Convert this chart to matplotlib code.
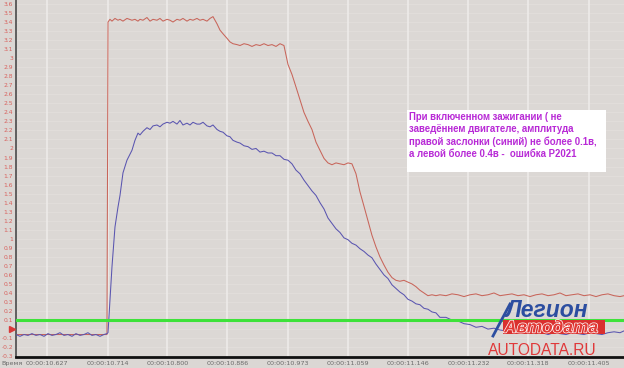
import numpy as np
import matplotlib
matplotlib.use("Agg")
import matplotlib.pyplot as plt
from matplotlib.lines import Line2D
from matplotlib.patches import Rectangle
import matplotlib.patheffects as pe

# ---------------- data ----------------
x_tick_values = [10.627, 10.714, 10.800, 10.886, 10.973, 11.059, 11.146, 11.232, 11.318, 11.405]
x_tick_labels = ["00:00:10.627", "00:00:10.714", "00:00:10.800", "00:00:10.886", "00:00:10.973",
                 "00:00:11.059", "00:00:11.146", "00:00:11.232", "00:00:11.318", "00:00:11.405"]
y_tick_values = [3.6, 3.5, 3.4, 3.3, 3.2, 3.1, 3.0, 2.9, 2.8, 2.7, 2.6, 2.5, 2.4, 2.3, 2.2, 2.1, 2.0,
                 1.9, 1.8, 1.7, 1.6, 1.5, 1.4, 1.3, 1.2, 1.1, 1.0, 0.9, 0.8, 0.7, 0.6, 0.5, 0.4, 0.3,
                 0.2, 0.1, 0.0, -0.1, -0.2, -0.3]
y_tick_labels = ["3.6", "3.5", "3.4", "3.3", "3.2", "3.1", "3", "2.9", "2.8", "2.7", "2.6", "2.5", "2.4",
                 "2.3", "2.2", "2.1", "2", "1.9", "1.8", "1.7", "1.6", "1.5", "1.4", "1.3", "1.2", "1.1",
                 "1", "0.9", "0.8", "0.7", "0.6", "0.5", "0.4", "0.3", "0.2", "0.1", "", "-0.1", "-0.2", "-0.3"]

threshold_level = 0.1

# red trace (left flap)
red_t = [10.5825, 10.7131, 10.7146, 10.7174, 10.7203, 10.7246, 10.7289, 10.7318, 10.7361, 10.7418,
         10.7490, 10.7533, 10.7576, 10.7605, 10.7648, 10.7705, 10.7749, 10.7792, 10.7849, 10.7892,
         10.7935, 10.7993, 10.8036, 10.8079, 10.8136, 10.8179, 10.8222, 10.8280, 10.8323, 10.8366,
         10.8423, 10.8466, 10.8510, 10.8567, 10.8610, 10.8653, 10.8711, 10.8754, 10.8797, 10.8854,
         10.8897, 10.8940, 10.8998, 10.9041, 10.9098, 10.9156, 10.9213, 10.9271, 10.9328, 10.9385,
         10.9443, 10.9500, 10.9558, 10.9615, 10.9672, 10.9730, 10.9787, 10.9845, 10.9902, 10.9959,
         11.0017, 11.0074, 11.0132, 11.0189, 11.0247, 11.0304, 11.0361, 11.0419, 11.0476, 11.0534,
         11.0591, 11.0648, 11.0706, 11.0763, 11.0821, 11.0878, 11.0935, 11.0993, 11.1050, 11.1108,
         11.1165, 11.1223, 11.1280, 11.1337, 11.1395, 11.1452, 11.1510, 11.1567, 11.1624, 11.1682,
         11.1739, 11.1797, 11.1854, 11.1911, 11.1998, 11.2084, 11.2170, 11.2257, 11.2343, 11.2429,
         11.2515, 11.2601, 11.2687, 11.2774, 11.2860, 11.2946, 11.3032, 11.3118, 11.3204, 11.3290,
         11.3377, 11.3463, 11.3549, 11.3635, 11.3721, 11.3807, 11.3894, 11.3980, 11.4066, 11.4152,
         11.4238, 11.4324, 11.4411, 11.4497, 11.4554]
red_v = [-0.06, -0.06, 3.40, 3.43, 3.41, 3.44, 3.42, 3.43, 3.41, 3.44,
         3.42, 3.43, 3.41, 3.43, 3.42, 3.45, 3.41, 3.43, 3.42, 3.44,
         3.41, 3.43, 3.42, 3.40, 3.43, 3.42, 3.44, 3.41, 3.43, 3.42,
         3.44, 3.42, 3.43, 3.41, 3.44, 3.46, 3.38, 3.31, 3.27, 3.22,
         3.18, 3.16, 3.15, 3.14, 3.16, 3.15, 3.13, 3.15, 3.14, 3.16,
         3.14, 3.15, 3.13, 3.16, 3.14, 2.93, 2.82, 2.68, 2.54, 2.40,
         2.30, 2.21, 2.07, 1.98, 1.89, 1.84, 1.82, 1.84, 1.83, 1.82,
         1.84, 1.83, 1.72, 1.52, 1.36, 1.20, 1.04, 0.91, 0.80, 0.71,
         0.63, 0.57, 0.54, 0.53, 0.54, 0.52, 0.50, 0.47, 0.43, 0.40,
         0.37, 0.38, 0.37, 0.38, 0.37, 0.39, 0.38, 0.36, 0.38, 0.39,
         0.37, 0.38, 0.40, 0.37, 0.38, 0.39, 0.37, 0.38, 0.36, 0.38,
         0.39, 0.37, 0.38, 0.40, 0.37, 0.38, 0.39, 0.37, 0.38, 0.36,
         0.38, 0.39, 0.37, 0.36, 0.37]

# blue trace (right flap)
blue_t = [10.5825, 10.5882, 10.5940, 10.5997, 10.6054, 10.6112, 10.6169, 10.6227, 10.6284, 10.6342,
          10.6399, 10.6456, 10.6514, 10.6571, 10.6629, 10.6686, 10.6744, 10.6801, 10.6858, 10.6916,
          10.6973, 10.7031, 10.7088, 10.7131, 10.7146, 10.7174, 10.7203, 10.7246, 10.7289, 10.7318,
          10.7361, 10.7418, 10.7490, 10.7533, 10.7576, 10.7605, 10.7648, 10.7705, 10.7749, 10.7792,
          10.7849, 10.7892, 10.7935, 10.7993, 10.8036, 10.8079, 10.8136, 10.8179, 10.8222, 10.8280,
          10.8323, 10.8366, 10.8423, 10.8466, 10.8510, 10.8567, 10.8610, 10.8653, 10.8711, 10.8754,
          10.8797, 10.8854, 10.8897, 10.8940, 10.8998, 10.9041, 10.9098, 10.9156, 10.9213, 10.9271,
          10.9328, 10.9385, 10.9443, 10.9500, 10.9558, 10.9615, 10.9672, 10.9730, 10.9787, 10.9845,
          10.9902, 10.9959, 11.0017, 11.0074, 11.0132, 11.0189, 11.0247, 11.0304, 11.0361, 11.0419,
          11.0476, 11.0534, 11.0591, 11.0648, 11.0706, 11.0763, 11.0821, 11.0878, 11.0935, 11.0993,
          11.1050, 11.1108, 11.1165, 11.1223, 11.1280, 11.1337, 11.1395, 11.1452, 11.1510, 11.1567,
          11.1624, 11.1682, 11.1739, 11.1797, 11.1854, 11.1911, 11.1998, 11.2084, 11.2170, 11.2257,
          11.2343, 11.2429, 11.2515, 11.2601, 11.2687, 11.2774, 11.2860, 11.2946, 11.3032, 11.3118,
          11.3204, 11.3290, 11.3377, 11.3463, 11.3549, 11.3635, 11.3721, 11.3807, 11.3894, 11.3980,
          11.4066, 11.4152, 11.4238, 11.4324, 11.4411, 11.4497, 11.4554]
blue_v = [-0.06, -0.08, -0.06, -0.07, -0.05, -0.07, -0.06, -0.08, -0.05, -0.07,
          -0.06, -0.04, -0.07, -0.06, -0.08, -0.05, -0.07, -0.06, -0.04, -0.07,
          -0.06, -0.08, -0.06, -0.05, -0.04, 0.32, 0.69, 1.13, 1.35, 1.48,
          1.73, 1.87, 1.98, 2.09, 2.17, 2.15, 2.19, 2.23, 2.21, 2.25,
          2.26, 2.24, 2.27, 2.29, 2.28, 2.30, 2.27, 2.31, 2.26, 2.28,
          2.26, 2.29, 2.27, 2.27, 2.29, 2.25, 2.24, 2.26, 2.21, 2.19,
          2.18, 2.14, 2.13, 2.09, 2.07, 2.06, 2.03, 2.02, 1.99, 2.00,
          1.96, 1.97, 1.95, 1.95, 1.92, 1.92, 1.88, 1.87, 1.83, 1.76,
          1.72, 1.65, 1.59, 1.53, 1.48, 1.40, 1.33, 1.23, 1.17, 1.11,
          1.07, 1.01, 0.99, 0.95, 0.93, 0.89, 0.86, 0.82, 0.79, 0.72,
          0.66, 0.60, 0.56, 0.49, 0.45, 0.41, 0.38, 0.33, 0.31, 0.28,
          0.27, 0.23, 0.22, 0.19, 0.18, 0.13, 0.13, 0.10, 0.09, 0.06,
          0.05, 0.02, 0.03, 0.00, 0.01, -0.01, -0.02, -0.03, -0.02, -0.04,
          -0.03, -0.05, -0.04, -0.06, -0.04, -0.05, -0.06, -0.04, -0.05, -0.06,
          -0.04, -0.05, -0.06, -0.04, -0.03, -0.04, -0.02]

note_lines = ["При включенном зажигании ( не",
              "заведённем двигателе, амплитуда",
              "правой заслонки (синий) не более 0.1в,",
              "а левой более 0.4в -  ошибка P2021"]

# ---------------- figure ----------------
W, H = 624, 368
bg = "#dbd7d4"
fig = plt.figure(figsize=(W / 100, H / 100), dpi=100, facecolor=bg)
ax = fig.add_axes([16 / W, 11 / H, 608 / W, 357 / H])
ax.set_facecolor("#dcd8d5")

ax.set_xlim(10.5825, 11.4554)
ax.set_ylim(-0.309, 3.644)

# grid
for yv in y_tick_values:
    ax.axhline(yv, color="#e2dfdc", lw=0.6, zorder=0.5)
for xv in x_tick_values:
    ax.axvline(xv, color="#eeebe9", lw=1.2, zorder=0.6)

ax.plot(red_t, red_v, color="#c8655a", lw=0.75, zorder=2)
ax.plot(blue_t, blue_v, color="#5a55b0", lw=0.75, zorder=3)
ax.axhline(threshold_level, color="#3ee23a", lw=2.2, zorder=4)

ax.set_xticks(x_tick_values)
ax.set_xticklabels(x_tick_labels, fontsize=4.6, color="#6a6a6a")
ax.set_yticks(y_tick_values)
ax.set_yticklabels(y_tick_labels, fontsize=4.3, color="#d8605c")
ax.tick_params(axis="both", length=0)
ax.tick_params(axis="y", pad=2)
ax.tick_params(axis="x", pad=3)

for s in ("top", "right"):
    ax.spines[s].set_visible(False)
ax.spines["left"].set_color("#4a4a4a")
ax.spines["left"].set_linewidth(1.2)
ax.spines["bottom"].set_color("#111111")
ax.spines["bottom"].set_linewidth(2.0)

# zero marker
ax.plot([-0.007], [0.0], marker=">", color="#d83a3a", markersize=4,
        transform=ax.get_yaxis_transform(), clip_on=False, zorder=5)

fig.text(1 / W, 1 - 363 / H, "Время", fontsize=4.6, color="#6a6a6a", va="center", ha="left")

# annotation box
fig.patches.append(Rectangle((407 / W, 1 - 172 / H), 199 / W, 62 / H, transform=fig.transFigure,
                             facecolor="white", edgecolor="none", zorder=3))
line_y = [117, 129.5, 142, 154]
for ln, yy in zip(note_lines, line_y):
    fig.text(409 / W, 1 - yy / H, ln, fontsize=6.9, fontweight="bold", color="#b82ad6",
             family=["Liberation Sans", "DejaVu Sans"], va="center", ha="left", zorder=4)

# logo
fig.add_artist(Line2D([493 / W, 510 / W], [1 - 336 / H, 1 - 304 / H], transform=fig.transFigure,
                      color="#2c4ea0", lw=2.0, zorder=5))
fig.text(505 / W, 1 - 317 / H, "Легион", fontsize=16.5, fontweight="bold", style="italic",
         color="#2c4ea0", family=["Liberation Sans", "DejaVu Sans"], va="baseline", ha="left", zorder=5)
fig.patches.append(Rectangle((503 / W, 1 - 334 / H), 102 / W, 14 / H, transform=fig.transFigure,
                             facecolor="#d9302e", edgecolor="none", zorder=4))
fig.text(504 / W, 1 - 332.5 / H, "Автодата", fontsize=12.5, fontweight="bold", style="italic",
         color="#e23a36", family=["Liberation Sans", "DejaVu Sans"], va="baseline", ha="left", zorder=5,
         path_effects=[pe.withStroke(linewidth=1.0, foreground="white")])
fig.text(488 / W, 1 - 355 / H, "AUTODATA.RU", fontsize=11.2, color="#e0393a",
         family=["Liberation Sans", "DejaVu Sans"], va="baseline", ha="left", zorder=5)

fig.savefig("out.png", dpi=100, facecolor=bg)
